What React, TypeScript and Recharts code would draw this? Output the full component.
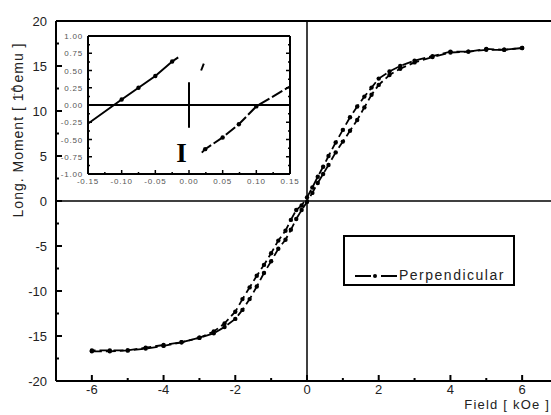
import React from "react";
import { LineChart, Line, XAxis, YAxis, ReferenceLine, ReferenceDot, Legend } from "recharts";

// descending branch (coming down from +6 kOe)
const descField = [6, 5.5, 5, 4.5, 4, 3.5, 3, 2.6, 2.3, 2.0, 1.8, 1.6, 1.4, 1.2, 1.0, 0.8, 0.6, 0.45, 0.3, 0.15, 0, -0.15, -0.3, -0.45, -0.6, -0.8, -1.0, -1.2, -1.4, -1.6, -1.8, -2.0, -2.3, -2.6, -3.0, -3.5, -4.0, -4.5, -5.0, -5.5, -6.0];
const descMoment = [17.0, 16.8, 16.9, 16.6, 16.6, 16.1, 15.6, 15.0, 14.4, 13.6, 12.6, 11.6, 10.5, 9.3, 7.9, 6.5, 5.0, 3.8, 2.7, 1.5, 0.4, -0.5, -1.0, -2.1, -3.3, -4.4, -5.8, -7.1, -8.3, -9.6, -10.9, -12.3, -13.6, -14.5, -15.2, -15.7, -16.0, -16.3, -16.6, -16.6, -16.6];

// ascending branch (going up from -6 kOe)
const ascField = [-6.0, -5.5, -5.0, -4.5, -4.0, -3.5, -3.0, -2.6, -2.3, -2.0, -1.8, -1.6, -1.4, -1.2, -1.0, -0.8, -0.6, -0.45, -0.3, -0.15, 0, 0.15, 0.3, 0.45, 0.6, 0.8, 1.0, 1.2, 1.4, 1.6, 1.8, 2.0, 2.3, 2.6, 3.0, 3.5, 4.0, 4.5, 5.0, 5.5, 6.0];
const ascMoment = [-16.7, -16.7, -16.6, -16.4, -16.1, -15.7, -15.2, -14.7, -14.0, -13.1, -12.1, -10.9, -9.5, -8.0, -6.7, -5.3, -4.3, -3.2, -2.0, -1.0, -0.1, 0.9, 2.0, 3.0, 4.0, 5.4, 6.6, 7.8, 9.0, 10.4, 11.8, 12.9, 14.0, 14.7, 15.4, 16.0, 16.5, 16.6, 16.8, 16.8, 17.0];

// inset: zoom around the coercive field
const insetLeftField = [-0.2, -0.1, -0.075, -0.05, -0.025, -0.016];
const insetLeftMoment = [-0.62, 0.08, 0.25, 0.42, 0.63, 0.69];
const insetRightField = [0.019, 0.024, 0.05, 0.074, 0.1, 0.2];
const insetRightMoment = [-0.69, -0.64, -0.47, -0.28, -0.02, 0.56];

const xTicks = [-6, -5, -4, -3, -2, -1, 0, 1, 2, 3, 4, 5, 6];
const yTicks = [-20, -17.5, -15, -12.5, -10, -7.5, -5, -2.5, 0, 2.5, 5, 7.5, 10, 12.5, 15, 17.5, 20];
const insetXTicks = [-0.15, -0.125, -0.1, -0.075, -0.05, -0.025, 0, 0.025, 0.05, 0.075, 0.1, 0.125, 0.15];
const insetYTicks = [-1, -0.875, -0.75, -0.625, -0.5, -0.375, -0.25, -0.125, 0, 0.125, 0.25, 0.375, 0.5, 0.625, 0.75, 0.875, 1];

const FONT = '"Liberation Sans", Arial, sans-serif';

const descData = descField.map((f, i) => ({ field: f, moment: descMoment[i] }));
const ascData = ascField.map((f, i) => ({ field: f, moment: ascMoment[i] }));
const insetLeft = insetLeftField.map((f, i) => ({ field: f, moment: insetLeftMoment[i] }));
const insetRight = insetRightField.map((f, i) => ({ field: f, moment: insetRightMoment[i] }));

const isMultiple = (v: number, step: number) => Math.abs(Math.round(v / step) * step - v) < 1e-6;

// ticks point into the plot, labels outside
const mainBottomTick = (props: any) => {
  const { x, y, payload } = props;
  const major = isMultiple(payload.value, 2);
  return (
    <g>
      <line x1={x} x2={x} y1={y} y2={y - (major ? 6 : 3)} stroke="#000" strokeWidth={2} />
      {major && (
        <text x={x} y={y + 13} textAnchor="middle" fontSize={13} fill="#222" fontFamily={FONT}>
          {payload.value}
        </text>
      )}
    </g>
  );
};

const mainTopTick = (props: any) => {
  const { x, y, payload } = props;
  const major = isMultiple(payload.value, 2);
  return <line x1={x} x2={x} y1={y} y2={y + (major ? 6 : 3)} stroke="#000" strokeWidth={2} />;
};

const mainLeftTick = (props: any) => {
  const { x, y, payload } = props;
  const major = isMultiple(payload.value, 5);
  return (
    <g>
      <line x1={x} x2={x + (major ? 6 : 3)} y1={y} y2={y} stroke="#000" strokeWidth={2} />
      {major && (
        <text x={x - 9} y={y + 5} textAnchor="end" fontSize={13} fill="#222" fontFamily={FONT}>
          {payload.value}
        </text>
      )}
    </g>
  );
};

const insetBottomTick = (props: any) => {
  const { x, y, payload } = props;
  const major = isMultiple(payload.value, 0.05);
  return (
    <g>
      <line x1={x} x2={x} y1={y} y2={y - (major ? 4 : 2)} stroke="#000" strokeWidth={1.5} />
      {major && (
        <text x={x} y={y + 10} textAnchor="middle" fontSize={8} letterSpacing={0.8} fill="#555" fontFamily={FONT}>
          {payload.value.toFixed(2)}
        </text>
      )}
    </g>
  );
};

const insetTopTick = (props: any) => {
  const { x, y, payload } = props;
  const major = isMultiple(payload.value, 0.05);
  return <line x1={x} x2={x} y1={y} y2={y + (major ? 4 : 2)} stroke="#000" strokeWidth={1.5} />;
};

const insetLeftTick = (props: any) => {
  const { x, y, payload } = props;
  const major = isMultiple(payload.value, 0.25);
  return (
    <g>
      <line x1={x} x2={x + (major ? 4 : 2)} y1={y} y2={y} stroke="#000" strokeWidth={1.5} />
      {major && (
        <text x={x - 5} y={y + 3} textAnchor="end" fontSize={8} letterSpacing={0.8} fill="#555" fontFamily={FONT}>
          {payload.value.toFixed(2)}
        </text>
      )}
    </g>
  );
};

const insetRightTick = (props: any) => {
  const { x, y, payload } = props;
  const major = isMultiple(payload.value, 0.25);
  return <line x1={x} x2={x - (major ? 4 : 2)} y1={y} y2={y} stroke="#000" strokeWidth={1.5} />;
};

const renderLegend = (props: any) => {
  const label = props.payload?.[0]?.value ?? "Perpendicular";
  return (
    <div
      style={{
        width: 172,
        height: 51,
        boxSizing: "border-box",
        border: "2px solid #000",
        background: "#fff",
        position: "relative",
        fontFamily: FONT,
      }}
    >
      <svg width={42} height={10} style={{ position: "absolute", left: 10, top: 34 }}>
        <line x1={0} x2={16} y1={5} y2={5} stroke="#000" strokeWidth={2} />
        <circle cx={20} cy={5} r={2} fill="#000" />
        <line x1={26} x2={42} y1={5} y2={5} stroke="#000" strokeWidth={2} />
      </svg>
      <span
        style={{
          position: "absolute",
          left: 54,
          top: 30,
          fontSize: 14,
          letterSpacing: 1.5,
          lineHeight: "16px",
          color: "#222",
        }}
      >
        {label}
      </span>
    </div>
  );
};

const endlessDot = (last: number) => (props: any) => {
  const { cx, cy, index } = props;
  if (index === last) return <g key={index} />;
  return <circle key={index} cx={cx} cy={cy} r={2.2} fill="#000" />;
};

const startlessDot = (props: any) => {
  const { cx, cy, index } = props;
  if (index === 0) return <g key={index} />;
  return <circle key={index} cx={cx} cy={cy} r={2.2} fill="#000" />;
};

const glyphI = (props: any) => (
  <text x={props.cx} y={props.cy + 9} textAnchor="middle" fontSize={27} fontWeight="bold" fontFamily='"Liberation Serif", serif' fill="#000">
    I
  </text>
);

function Inset() {
  return (
    <div style={{ position: "absolute", left: 56, top: 26 }}>
      <LineChart width={244} height={170} margin={{ top: 10, right: 10, bottom: 0, left: 0 }}>
        <XAxis
          type="number"
          dataKey="field"
          domain={[-0.15, 0.15]}
          ticks={insetXTicks}
          interval={0}
          allowDataOverflow
          height={22}
          tickSize={0}
          tickMargin={0}
          tick={insetBottomTick}
          axisLine={{ stroke: "#000", strokeWidth: 2 }}
        />
        <XAxis
          xAxisId="top"
          orientation="top"
          mirror
          type="number"
          domain={[-0.15, 0.15]}
          ticks={insetXTicks}
          interval={0}
          allowDataOverflow
          tickSize={0}
          tickMargin={0}
          tick={insetTopTick}
          axisLine={{ stroke: "#000", strokeWidth: 2 }}
        />
        <YAxis
          type="number"
          domain={[-1, 1]}
          ticks={insetYTicks}
          interval={0}
          allowDataOverflow
          width={32}
          tickSize={0}
          tickMargin={0}
          tick={insetLeftTick}
          axisLine={{ stroke: "#000", strokeWidth: 2 }}
        />
        <YAxis
          yAxisId="right"
          orientation="right"
          mirror
          type="number"
          domain={[-1, 1]}
          ticks={insetYTicks}
          interval={0}
          allowDataOverflow
          tickSize={0}
          tickMargin={0}
          tick={insetRightTick}
          axisLine={{ stroke: "#000", strokeWidth: 2 }}
        />
        <ReferenceLine y={0} stroke="#000" strokeWidth={2} />
        <ReferenceLine segment={[{ x: 0, y: -0.33 }, { x: 0, y: 0.33 }]} stroke="#000" strokeWidth={2} />
        <ReferenceLine segment={[{ x: 0.018, y: 0.5 }, { x: 0.022, y: 0.6 }]} stroke="#000" strokeWidth={2} />
        <ReferenceDot x={-0.011} y={-0.7} r={0} shape={glyphI} />
        <Line
          data={insetLeft}
          dataKey="moment"
          stroke="#000"
          strokeWidth={2}
          dot={endlessDot(insetLeftField.length - 1)}
          isAnimationActive={false}
          legendType="none"
        />
        <Line
          data={insetRight}
          dataKey="moment"
          stroke="#000"
          strokeWidth={2}
          strokeDasharray="12 3"
          dot={startlessDot}
          isAnimationActive={false}
          legendType="none"
        />
      </LineChart>
    </div>
  );
}

export default function App() {
  return (
    <div
      style={{
        position: "absolute",
        left: 0,
        top: 0,
        width: 551,
        height: 415,
        overflow: "hidden",
        background: "#fff",
        fontFamily: FONT,
      }}
    >
      <LineChart width={558} height={415} margin={{ top: 21, right: 0, bottom: 0, left: 0 }}>
        <XAxis
          type="number"
          dataKey="field"
          domain={[-7, 7]}
          ticks={xTicks}
          interval={0}
          allowDataOverflow
          height={34}
          tickSize={0}
          tickMargin={0}
          tick={mainBottomTick}
          axisLine={{ stroke: "#000", strokeWidth: 2 }}
        />
        <XAxis
          xAxisId="top"
          orientation="top"
          mirror
          type="number"
          domain={[-7, 7]}
          ticks={xTicks}
          interval={0}
          allowDataOverflow
          tickSize={0}
          tickMargin={0}
          tick={mainTopTick}
          axisLine={{ stroke: "#000", strokeWidth: 2 }}
        />
        <YAxis
          type="number"
          domain={[-20, 20]}
          ticks={yTicks}
          interval={0}
          allowDataOverflow
          width={56}
          tickSize={0}
          tickMargin={0}
          tick={mainLeftTick}
          axisLine={{ stroke: "#000", strokeWidth: 2 }}
        />
        <ReferenceLine y={0} stroke="#000" strokeWidth={1.5} />
        <ReferenceLine x={0} stroke="#000" strokeWidth={1.5} />
        <Line
          name="Perpendicular"
          data={descData}
          dataKey="moment"
          stroke="#000"
          strokeWidth={1.8}
          strokeDasharray="10 4"
          dot={{ r: 2.2, fill: "#000", stroke: "none" }}
          isAnimationActive={false}
        />
        <Line
          name="Perpendicular"
          data={ascData}
          dataKey="moment"
          stroke="#000"
          strokeWidth={1.8}
          strokeDasharray="10 4"
          dot={{ r: 2.2, fill: "#000", stroke: "none" }}
          isAnimationActive={false}
          legendType="none"
        />
        <Legend
          layout="vertical"
          align="center"
          verticalAlign="middle"
          content={renderLegend}
          wrapperStyle={{ left: 343, top: 235, width: 172, height: 51 }}
        />
      </LineChart>
      <Inset />
      <div
        style={{
          position: "absolute",
          left: 19,
          top: 130,
          transform: "translate(-50%, -50%) rotate(-90deg)",
          whiteSpace: "nowrap",
          fontSize: 14,
          letterSpacing: 1,
          color: "#222",
          lineHeight: "16px",
        }}
      >
        Long. Moment [ 10
        <span style={{ fontSize: 8, position: "relative", top: -7, marginLeft: -12, marginRight: 4 }}>-4</span>
        emu ]
      </div>
      <div
        style={{
          position: "absolute",
          right: 1,
          top: 398,
          whiteSpace: "nowrap",
          fontSize: 13,
          letterSpacing: 1.2,
          color: "#222",
          lineHeight: "13px",
        }}
      >
        Field [ kOe ]
      </div>
    </div>
  );
}
